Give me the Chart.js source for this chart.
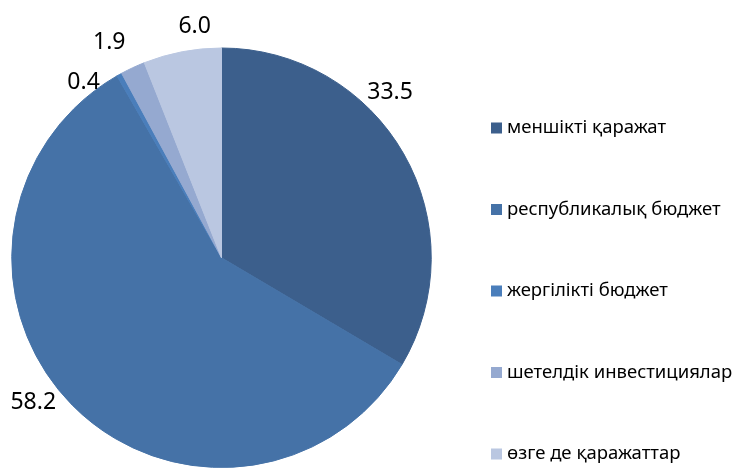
<!DOCTYPE html>
<html>
<head>
<meta charset="utf-8">
<script src="https://cdn.jsdelivr.net/npm/chart.js@4"></script>
<style>
  html, body { margin: 0; padding: 0; background: #fff; overflow: hidden; }
  #chart { display: block; }
</style>
</head>
<body>
<canvas id="chart" width="734" height="468"></canvas>
<script>
const categories = [
  "меншікті қаражат",
  "республикалық бюджет",
  "жергілікті бюджет",
  "шетелдік инвестициялар",
  "өзге де қаражаттар"
];
const shares = [33.5, 58.2, 0.4, 1.9, 6.0];
const sliceColors = ["#3c5f8c", "#4572a7", "#4a7ebb", "#95a9d0", "#bac7e1"];

// label placement around the pie: angle nudge (deg) and gap beyond the rim (px)
const labelNudge = [-14.9, 7.3, -8.9, -2.4, 4.2];
const labelGap = [27, 27, 14, 34, 24];

const outsideLabels = {
  id: "outsideLabels",
  afterDatasetsDraw(chart) {
    const ctx = chart.ctx;
    const arcs = chart.getDatasetMeta(0).data;
    ctx.save();
    ctx.font = "23px 'Noto Sans'";
    ctx.fillStyle = "#000";
    ctx.textAlign = "center";
    ctx.textBaseline = "middle";
    arcs.forEach(function (arc, i) {
      let mid = (arc.startAngle + arc.endAngle) / 2 + labelNudge[i] * Math.PI / 180;
      let d = arc.outerRadius + labelGap[i];
      let x = arc.x + Math.cos(mid) * d;
      let y = arc.y + Math.sin(mid) * d;
      ctx.fillText(shares[i].toFixed(1), x, y + 1);
    });
    ctx.restore();
  }
};

const sideLegend = {
  id: "sideLegend",
  afterDraw(chart) {
    const ctx = chart.ctx;
    const data = chart.data;
    ctx.save();
    ctx.font = "18.5px 'Noto Sans'";
    ctx.textBaseline = "middle";
    ctx.textAlign = "left";
    data.labels.forEach(function (label, i) {
      let y = 128 + i * 81.5;
      ctx.fillStyle = data.datasets[0].backgroundColor[i];
      ctx.fillRect(491, y - 5.5, 11, 11);
      ctx.fillStyle = "#000";
      ctx.fillText(label, 507, y);
    });
    ctx.restore();
  }
};

new Chart(document.getElementById("chart"), {
  type: "pie",
  data: {
    labels: categories,
    datasets: [{
      data: shares,
      backgroundColor: sliceColors,
      borderColor: sliceColors,
      borderWidth: 1
    }]
  },
  options: {
    responsive: false,
    animation: false,
    layout: { padding: { left: 11, right: 302, top: 47.5, bottom: 0 } },
    plugins: {
      legend: { display: false },
      tooltip: { enabled: false }
    }
  },
  plugins: [outsideLabels, sideLegend]
});
</script>
</body>
</html>
